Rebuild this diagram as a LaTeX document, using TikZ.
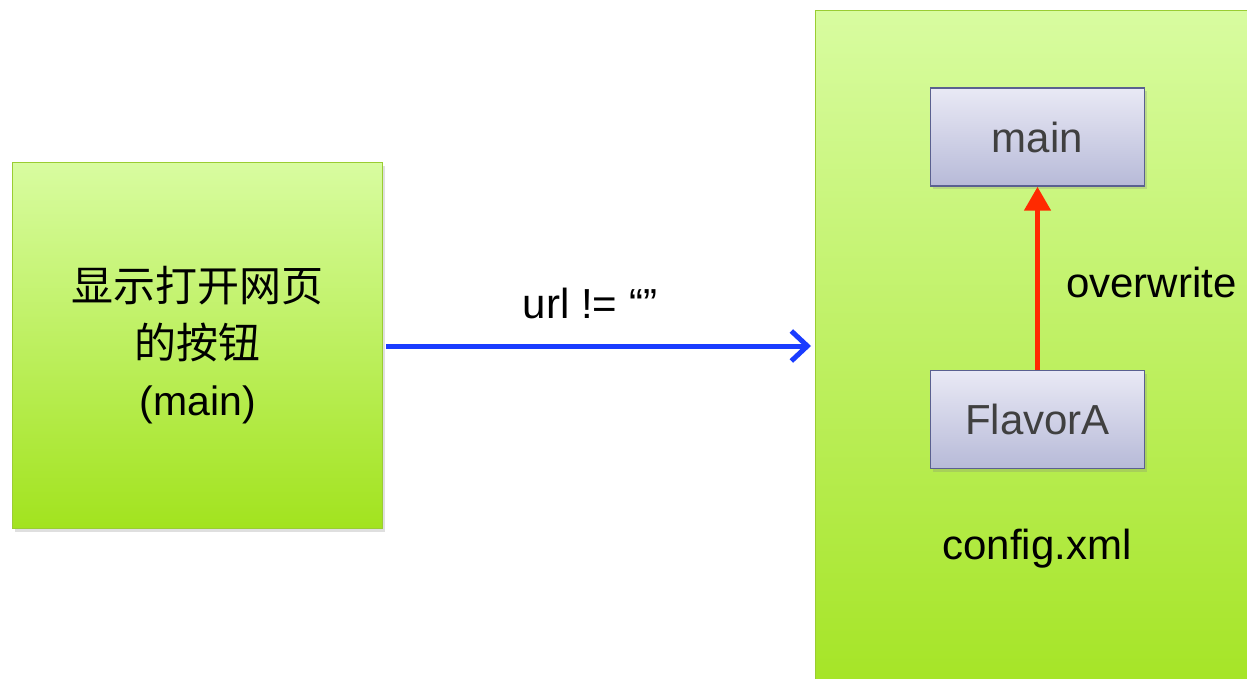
\documentclass[tikz,border=0pt]{standalone}
\usepackage{fontspec}
\setmainfont{Liberation Sans}
\newfontfamily\cjk{Noto Sans CJK SC}
\usetikzlibrary{arrows.meta,shadows}
\definecolor{gtop}{HTML}{D8FCA0}
\definecolor{gbot}{HTML}{A2E31E}
\definecolor{gedge}{HTML}{9ACD32}
\definecolor{btop}{HTML}{E9E9F5}
\definecolor{bbot}{HTML}{B7BAD8}
\definecolor{bedge}{HTML}{5A6090}
\definecolor{txtgray}{HTML}{404040}
\definecolor{arrblue}{HTML}{1A3CFF}
\definecolor{arrred}{HTML}{FF2A00}
\tikzset{
  x=1pt,y=-1pt,
  greenbox/.style={draw=gedge,line width=1.2pt,top color=gtop,bottom color=gbot,
    drop shadow={shadow xshift=2pt,shadow yshift=-3pt,opacity=0.25}},
  innerbox/.style={draw=bedge,line width=1.5pt,top color=btop,bottom color=bbot,
    minimum width=214pt,minimum height=98pt,inner sep=0pt,text=txtgray,
    font=\fontsize{42}{50}\selectfont,
    drop shadow={shadow xshift=2pt,shadow yshift=-3pt,opacity=0.25}},
  lbl/.style={font=\fontsize{42}{50}\selectfont,text=black,inner sep=0pt},
}
\begin{document}
\begin{tikzpicture}
\clip (0,0) rectangle (1247,679);
\fill[white] (0,0) rectangle (1247,679);
% left box
\node[greenbox,minimum width=370pt,minimum height=366pt,inner sep=0pt,anchor=north west,
  align=center,font=\fontsize{41}{57}\selectfont] (left) at (12,162)
  {{\cjk\fontsize{42}{57}\selectfont 显示打开网页}\\{\cjk\fontsize{42}{57}\selectfont 的按钮}\\(main)};
% right big box
\node[greenbox,minimum width=480pt,minimum height=720pt,inner sep=0pt,anchor=north west] (right) at (815,10) {};
% inner boxes
\node[innerbox] (mainb) at (1037.5,137) {main};
\node[innerbox] (flavor) at (1037.5,419.5) {FlavorA};
% labels
\node[lbl] (cfg) at (1037,549) {config.xml};
\node[lbl,anchor=west] (ow) at (1066,282) {overwrite};
\node[lbl] (url) at (590,303) {url != “”};
% arrows
\coordinate (bs) at (386,346);
\coordinate (be) at (811,346);
\draw[arrblue,line width=5pt,-{Straight Barb[length=16pt,width=30pt,line width=5pt]}] (bs) -- (be);
\draw[arrred,line width=5pt,-{Triangle[length=24pt,width=26pt]}] (flavor.north) -- (mainb.south);
\end{tikzpicture}
\end{document}
